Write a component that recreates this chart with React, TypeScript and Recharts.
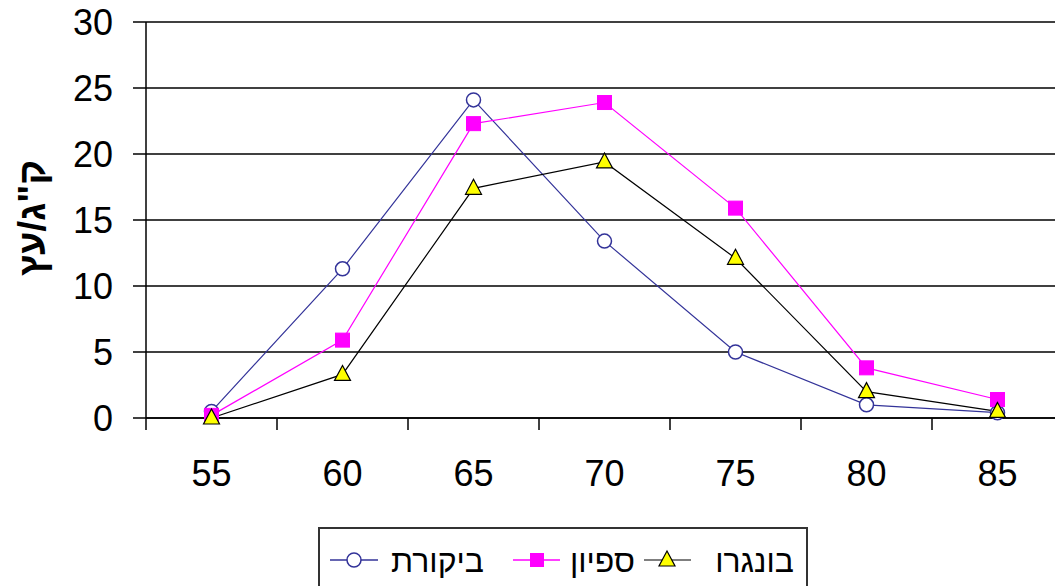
import { LineChart, Line, XAxis, YAxis, CartesianGrid } from "recharts";

const categories = [55, 60, 65, 70, 75, 80, 85];
const controlValues = [0.5, 11.3, 24.1, 13.4, 5.0, 1.0, 0.4];
const sapionValues = [0.2, 5.9, 22.3, 23.9, 15.9, 3.8, 1.4];
const bongaroValues = [0, 3.3, 17.4, 19.4, 12.1, 2.0, 0.5];
const yTicks = [0, 5, 10, 15, 20, 25, 30];
const seriesNames = ["ביקורת", "ספיון", "בונגרו"];
const yLabel = "ק\"ג/עץ";

const BLUE = "#333399";
const MAGENTA = "#ff00ff";
const BLACK = "#000000";
const YELLOW = "#ffff00";

// category boundaries, so tick marks fall between the labels
const halfStep = (categories[1] - categories[0]) / 2;
const boundaryTicks = [...categories.map((c) => c - halfStep), categories[categories.length - 1] + halfStep];
const xDomain = [boundaryTicks[0], boundaryTicks[boundaryTicks.length - 1]];

const data = categories.map((c, i) => ({
  x: c,
  control: controlValues[i],
  sapion: sapionValues[i],
  bongaro: bongaroValues[i],
}));

const font = "'Liberation Sans', Arial, sans-serif";

function CircleDot(props: any) {
  const { cx, cy, index } = props;
  return <circle key={`c${index}`} cx={cx} cy={cy} r={7} fill="#fff" stroke={BLUE} strokeWidth={1.5} />;
}

function SquareDot(props: any) {
  const { cx, cy, index } = props;
  return <rect key={`s${index}`} x={cx - 7} y={cy - 7} width={14} height={14} fill={MAGENTA} stroke={MAGENTA} />;
}

function TriangleDot(props: any) {
  const { cx, cy, index } = props;
  return (
    <polygon
      key={`t${index}`}
      points={`${cx},${cy - 9} ${cx - 8},${cy + 6} ${cx + 8},${cy + 6}`}
      fill={YELLOW}
      stroke={BLACK}
      strokeWidth={1.2}
    />
  );
}

// tick marks only, no text
const EmptyTick = () => <g />;

function LegendBox() {
  const cy = 31;
  return (
    <div
      style={{
        position: "absolute",
        left: 318,
        top: 527,
        width: 486,
        height: 70,
        border: "2px solid #333",
        background: "#fff",
      }}
    >
      <svg width={486} height={70} style={{ display: "block" }}>
        <line x1={10} x2={58} y1={cy} y2={cy} stroke={BLUE} strokeWidth={1.5} />
        <circle cx={34} cy={cy} r={7} fill="#fff" stroke={BLUE} strokeWidth={1.5} />
        <text x={164} y={cy + 12} textAnchor="end" fontSize={32} fontFamily={font} fill="#000">
          {seriesNames[0]}
        </text>
        <line x1={193} x2={240} y1={cy} y2={cy} stroke={MAGENTA} strokeWidth={1.5} />
        <rect x={210} y={cy - 7} width={14} height={14} fill={MAGENTA} />
        <text x={315} y={cy + 12} textAnchor="end" fontSize={32} fontFamily={font} fill="#000">
          {seriesNames[1]}
        </text>
        <line x1={324} x2={371} y1={cy} y2={cy} stroke={BLACK} strokeWidth={1.2} />
        <polygon points={`347,${cy - 9} 339,${cy + 6} 355,${cy + 6}`} fill={YELLOW} stroke={BLACK} strokeWidth={1.2} />
        <text x={474} y={cy + 12} textAnchor="end" fontSize={32} fontFamily={font} fill="#000">
          {seriesNames[2]}
        </text>
      </svg>
    </div>
  );
}

export default function App() {
  return (
    <div
      style={{
        position: "absolute",
        left: 0,
        top: 0,
        width: 1055,
        height: 586,
        overflow: "hidden",
        background: "#fff",
      }}
    >
      <LineChart width={1063} height={586} data={data} margin={{ top: 22, right: 0, bottom: 96, left: 0 }}>
        <CartesianGrid vertical={false} stroke="#000" strokeWidth={1.5} />
        <XAxis
          dataKey="x"
          type="number"
          domain={xDomain}
          ticks={boundaryTicks}
          tick={EmptyTick}
          tickLine={{ stroke: "#000", strokeWidth: 1.5 }}
          tickSize={12}
          height={12}
          stroke="#000"
          strokeWidth={1.5}
          allowDataOverflow
        />
        <XAxis
          xAxisId="lab"
          dataKey="x"
          type="number"
          domain={xDomain}
          ticks={categories}
          tickLine={false}
          axisLine={false}
          tickSize={0}
          tickMargin={30}
          height={60}
          tick={{ fontSize: 36, fill: "#000", fontFamily: font }}
        />
        <YAxis
          domain={[0, 30]}
          ticks={yTicks}
          width={146}
          tickSize={13}
          tickMargin={20}
          stroke="#000"
          strokeWidth={1.5}
          tick={{ fontSize: 36, fill: "#000", fontFamily: font }}
          label={{
            content: () => (
              <text
                x={32}
                y={218}
                transform="rotate(-90 32 218)"
                textAnchor="middle"
                dominantBaseline="central"
                fontSize={38}
                fontWeight="bold"
                fontFamily={font}
                fill="#000"
              >
                {yLabel}
              </text>
            ),
          }}
        />
        <Line
          dataKey="control"
          name={seriesNames[0]}
          stroke={BLUE}
          strokeWidth={1.2}
          dot={CircleDot}
          isAnimationActive={false}
        />
        <Line
          dataKey="sapion"
          name={seriesNames[1]}
          stroke={MAGENTA}
          strokeWidth={1.2}
          dot={SquareDot}
          isAnimationActive={false}
        />
        <Line
          dataKey="bongaro"
          name={seriesNames[2]}
          stroke={BLACK}
          strokeWidth={1.2}
          dot={TriangleDot}
          isAnimationActive={false}
        />
      </LineChart>
      <LegendBox />
    </div>
  );
}
